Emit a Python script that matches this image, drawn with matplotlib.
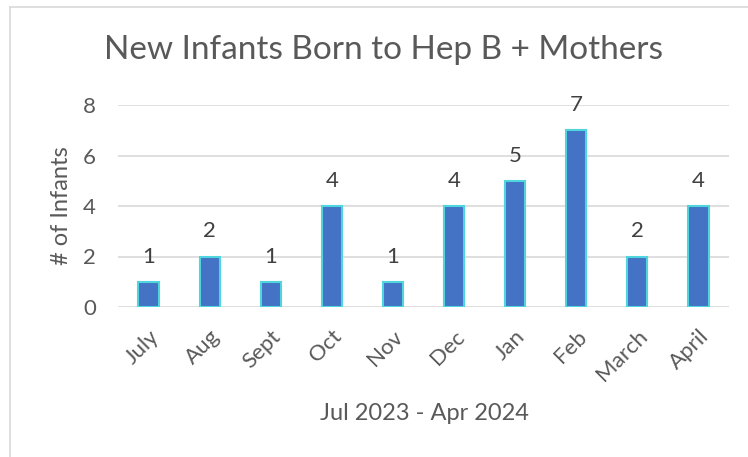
import matplotlib
matplotlib.use("Agg")
import matplotlib.pyplot as plt
from matplotlib.lines import Line2D

months = ["July", "Aug", "Sept", "Oct", "Nov", "Dec", "Jan", "Feb", "March", "April"]
infants = [1, 2, 1, 4, 1, 4, 5, 7, 2, 4]
yticks = [0, 2, 4, 6, 8]
title = "New Infants Born to Hep B + Mothers"
xlabel = "Jul 2023 - Apr 2024"
ylabel = "# of Infants"

plt.rcParams['font.family'] = ['Lato', 'DejaVu Sans']
txt = "#595959"

fig = plt.figure(figsize=(7.48, 4.57), dpi=100)
W, H = 748, 457
ax = fig.add_axes([118 / W, 1 - 307 / H, (729 - 118) / W, (307 - 105) / H])

x = list(range(len(months)))
ax.bar(x, infants, width=0.33, color="#4472C4", edgecolor="#4FD5DD", linewidth=1.5, zorder=3)
for xi, v in zip(x, infants):
    ax.annotate(str(v), (xi, v), xytext=(0, 18), textcoords="offset points",
                ha="center", va="center", fontsize=16, color="#404040")

ax.set_xlim(-0.5, len(months) - 0.5)
ax.set_ylim(0, 8)
ax.set_yticks(yticks)
ax.grid(axis="y", color="#D9D9D9", linewidth=1.2, zorder=0)
for s in ax.spines.values():
    s.set_visible(False)
ax.tick_params(axis="both", length=0, labelsize=16, labelcolor=txt)
ax.tick_params(axis="y", pad=16)
ax.set_xticks(x)
ax.set_xticklabels(months, rotation=45, ha="right", va="top", rotation_mode="anchor")
ax.tick_params(axis="x", pad=14)

fig.text(383 / W, 1 - 50 / H, title, ha="center", va="center", fontsize=24, color=txt)
fig.text(424 / W, 1 - 413 / H, xlabel, ha="center", va="center", fontsize=17, color=txt)
fig.text(61 / W, 1 - 206 / H, ylabel, ha="center", va="center", rotation=90, fontsize=17, color=txt)

# chart border
fig.add_artist(Line2D([9.5 / W, 9.5 / W], [0, 1 - 6.5 / H], color="#D9D9D9", linewidth=1.2, transform=fig.transFigure))
fig.add_artist(Line2D([9.5 / W, 1], [1 - 6.5 / H, 1 - 6.5 / H], color="#D9D9D9", linewidth=1.2, transform=fig.transFigure))

fig.savefig("out.png", dpi=100)
